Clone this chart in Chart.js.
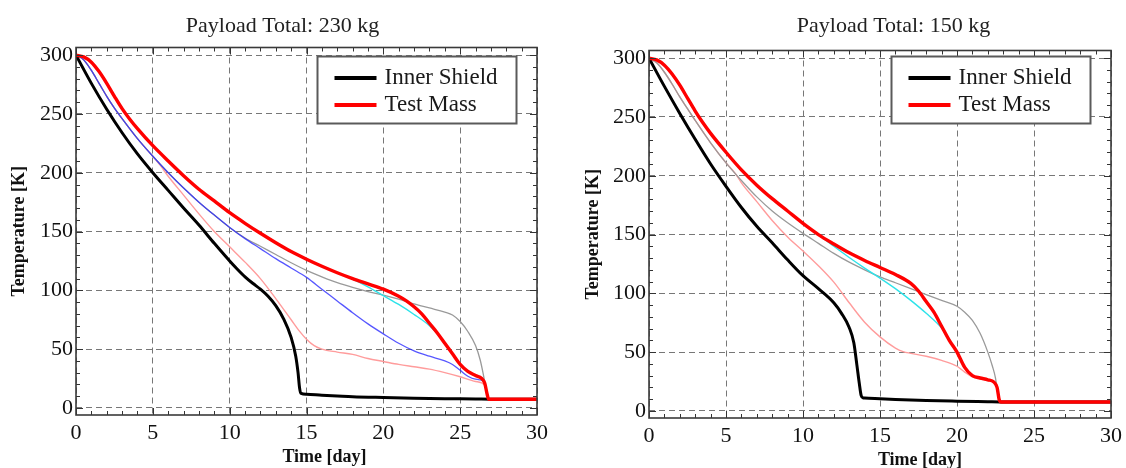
<!DOCTYPE html>
<html><head><meta charset="utf-8">
<script src="https://cdn.jsdelivr.net/npm/chart.js@4.4.1/dist/chart.umd.min.js"></script>
<style>
html,body{margin:0;padding:0;width:1126px;height:468px;overflow:hidden;background:#fff;}
canvas{position:absolute;top:0;}
#c1{left:0;}
#c2{left:575px;}
</style></head><body>
<canvas id="c1" width="565" height="468"></canvas>
<canvas id="c2" width="637" height="468"></canvas>
<script>
// ---------- tick labels ----------
const X_TICKS = [0, 5, 10, 15, 20, 25, 30];
const Y_TICKS = [0, 50, 100, 150, 200, 250, 300];
const TITLES = ['Payload Total: 230 kg', 'Payload Total: 150 kg'];
const LEGEND_LABELS = ['Inner Shield', 'Test Mass'];

// ---------- left: 230 kg ----------
const L_TIME_INNER = [0,1,2,3,4,5,6,7,8,9,10,10.5,11,11.5,12,12.5,13,13.5,14,14.3,14.45,14.55,14.65,15,16,17,18,20,22,24,26,27,30];
const L_TEMP_INNER = [300,276,254,234,216,200,185,170,155.5,140,125,118,111.5,106,101,95,87,76,60,44,30,17,12.3,11.6,10.8,10.2,9.6,8.9,8.3,7.9,7.6,7.4,7.4];
const L_TIME_MASS = [0,0.5,1,1.5,2,2.5,3,3.5,4,5,6,7,8,9,10,11,12,13,14,15,16,17,18,19,20,21,21.5,22,22.5,23,23.5,24,24.5,25,25.5,26,26.4,26.6,26.75,26.85,30];
const L_TEMP_MASS = [300,298.5,294,286,276,265,254.5,245.5,237.5,223,210,197.5,186,176,166,157,148.5,140.5,133,126.5,120.5,115,110,105.5,101,95,91,86,80,72,64,55,46,37,31,27.5,25,21,12,7.4,7.4];
const L_TIME_CYAN = [0,0.5,1,1.5,2,2.5,3,3.5,4,5,6,7,8,9,10,11,12,13,14,15,16,17,18,19,20,21,22,23,23.5];
const L_TEMP_CYAN = [300,298.5,294,286,276,265,254.5,245.5,237.5,223,210,197.5,186,176,166,157,148.5,140.5,133,126.5,120.5,115,109.5,103,95.5,88,79.5,70,63.5];
const L_TIME_BLUE = [0,0.5,1,1.5,2,2.5,3,4,5,6,7,8,9,10,11,12,13,14,15,16,17,18,19,20,21,22,23,24,24.5,25,25.5,26,26.6,26.8,27];
const L_TEMP_BLUE = [300,296,287,276,265,255,246,229,214,200,187,175,164,153.5,144,135.5,127,119,111,101,91,81,71.5,63,55,48.5,44,40,37,32,27,24.5,22,8,7.4];
const L_TIME_GRAY = [0,0.5,1,1.5,2,2.5,3,4,5,6,7,8,9,10,11,12,13,14,15,16,17,18,19,20,21,22,23,24,24.5,25,25.5,26,26.3,26.5,26.7,26.85,27];
const L_TEMP_GRAY = [300,296,287,276,265,255,246,229,214,200,187,175,164,153.5,144.5,137.5,130.5,123.5,117,111.5,106.5,102.5,99,96,92.5,88.5,85,81.5,79,73.5,65,53,41,29,15,7.4,7.4];
const L_TIME_PINK = [0,0.5,1,1.5,2,2.5,3,4,5,5.5,6,7,8,9,10,11,12,13,14,14.5,15,15.5,16,17,18,19,20,21,22,23,24,25,26,26.6,26.8,27];
const L_TEMP_PINK = [300,296,287,276,265,255,246,229,214,206,197,181,165,150,137,124,110,93,75,66,58.5,53,50,47.5,45.5,42,39.5,37,35,33,30,26.5,22.5,19.5,8,7.4];

// ---------- right: 150 kg ----------
const R_TIME_INNER = [0,1,2,3,4,5,6,7,8,9,10,11,12,12.5,13,13.3,13.5,13.65,13.78,13.9,14,15,16,18,20,22,22.8,30];
const R_TEMP_INNER = [300,276,253,231,210,191,173,157,143,128.5,115,104,92,83,71,58,39,24,13,11.2,11,10.4,9.8,8.9,8.3,7.8,7.6,7.6];
const R_TIME_MASS = [0,0.5,1,1.5,2,2.5,3,3.5,4,5,6,7,8,9,10,11,12,13,14,15,16,17,17.5,18,18.5,19,19.5,20,20.5,21,21.5,22,22.4,22.6,22.75,22.85,30];
const R_TEMP_MASS = [300,298.5,294,286.5,277,266,255,245,236,220,205,192,180.5,170,159.5,150,142,134.5,128,122,116,108.5,102,93,84,72,60,50,37,30,28,26.5,24.5,20,9,7.6,7.6];
const R_TIME_CYAN = [0,0.5,1,1.5,2,2.5,3,3.5,4,5,6,7,8,9,10,11,12,13,14,15,16,17,18,19,19.6];
const R_TEMP_CYAN = [300,298.5,294,286.5,277,266,255,245,236,220,205,192,180.5,170,159.5,150,140,130.5,121.5,113,104,94,83,70.5,59];
const R_TIME_GRAY = [0,0.5,1,1.5,2,2.5,3,4,5,6,7,8,9,10,11,12,13,14,15,16,17,18,19,20,20.5,21,21.5,22,22.3,22.5,22.65,22.8];
const R_TEMP_GRAY = [300,296,288,278,267,257,247,228,211,196,182,170,160,151,142.5,134,126.5,120,114,109,104,99,94,89,84,77,66,50,38,28,15,7.6];
const R_TIME_PINK = [0,0.5,1,1.5,2,2.5,3,4,5,5.6,6,7,8,9,10,11,12,13,14,15,16,16.5,17,18,19,20,20.5,21,21.5,22,22.4,22.6,22.75,22.85];
const R_TEMP_PINK = [300,296,288,278,267,257,247,228,211,202,194,178,162,148,136,123.5,109.5,92,75.5,63,53.5,50.5,49,46.5,43,38,33,29,27.5,26,24,20,10,7.6];

// ---------- helpers ----------
const FONT = '"Liberation Serif", "Times New Roman", serif';
Chart.defaults.font.family = FONT;
Chart.defaults.color = '#111';

function pts(ts, ks) { return ts.map((t, i) => ({ x: t, y: ks[i] })); }
function line(label, ts, ks, color, width) {
  return { label, data: pts(ts, ks), borderColor: color, backgroundColor: color, borderWidth: width,
           pointRadius: 0, fill: false, cubicInterpolationMode: 'monotone' };
}

const X_MINOR = Array.from({ length: 31 }, (_, i) => i);
const Y_MINOR = Array.from({ length: 31 }, (_, i) => i * 10);

const decoPlugin = {
  id: 'deco',
  afterDraw(chart, args, o) {
    const { ctx, chartArea: a, scales } = chart;
    const x = scales.x, y = scales.y;
    ctx.save();
    // inward minor / major ticks on all four sides
    ctx.strokeStyle = '#333';
    ctx.lineWidth = 1;
    ctx.beginPath();
    X_MINOR.forEach(v => {
      const px = Math.round(x.getPixelForValue(v)) + 0.5;
      const len = v % 5 === 0 ? 7 : 4;
      ctx.moveTo(px, a.bottom); ctx.lineTo(px, a.bottom - len);
      ctx.moveTo(px, a.top); ctx.lineTo(px, a.top + len);
    });
    Y_MINOR.forEach(v => {
      const py = Math.round(y.getPixelForValue(v)) + 0.5;
      const len = v % 50 === 0 ? 7 : 4;
      ctx.moveTo(a.left, py); ctx.lineTo(a.left + len, py);
      ctx.moveTo(a.right, py); ctx.lineTo(a.right - len, py);
    });
    ctx.stroke();
    // frame
    ctx.lineWidth = 1.6;
    ctx.strokeStyle = '#3a3a3a';
    ctx.strokeRect(a.left, a.top, a.right - a.left, a.bottom - a.top);

    // legend box inside plot
    const bw = 199, bh = 67;
    const bx = a.right - 20.5 - bw, by = 56.5;
    ctx.fillStyle = '#fff';
    ctx.fillRect(bx, by, bw, bh);
    ctx.lineWidth = 2;
    ctx.strokeStyle = '#5a5a5a';
    ctx.strokeRect(bx, by, bw, bh);
    ctx.font = '23px ' + FONT;
    ctx.textBaseline = 'middle';
    ctx.textAlign = 'left';
    LEGEND_LABELS.forEach((lab, i) => {
      const ds = chart.data.datasets.find(d => d.label === lab);
      const yy = by + 21.5 + i * 27;
      ctx.strokeStyle = ds.borderColor;
      ctx.lineWidth = 4;
      ctx.beginPath();
      ctx.moveTo(bx + 17, yy); ctx.lineTo(bx + 59, yy);
      ctx.stroke();
      ctx.fillStyle = '#1a1a1a';
      ctx.fillText(lab, bx + 67, yy);
    });

    // x-axis title
    ctx.font = 'bold 18px ' + FONT;
    ctx.fillStyle = '#111';
    ctx.textAlign = 'center';
    ctx.fillText(o.xTitle, (a.left + a.right) / 2 + o.xTitleDx, a.bottom + 42);
    ctx.restore();
  }
};

function build(id, title, sets, g) {
  return new Chart(document.getElementById(id), {
    type: 'line',
    data: { datasets: sets },
    options: {
      responsive: false,
      animation: false,
      devicePixelRatio: 1,
      layout: { padding: 0 },
      plugins: {
        legend: { display: false },
        tooltip: { enabled: false },
        title: { display: true, text: title, color: '#222',
                 font: { family: FONT, size: 22, weight: 'normal' },
                 padding: { top: 13.3, bottom: g.titleBottom } },
        deco: { xTitle: 'Time [day]', xTitleDx: g.xTitleDx }
      },
      scales: {
        x: {
          type: 'linear', min: 0, max: 30,
          afterBuildTicks: s => { s.ticks = X_TICKS.map(v => ({ value: v })); },
          afterFit: s => { s.height = g.xAxisH; },
          ticks: { font: { size: 22 }, color: '#111', padding: 5, maxRotation: 0, autoSkip: false },
          grid: { color: '#777', lineWidth: 1, drawTicks: false },
          border: { display: false, dash: [6, 4] }
        },
        y: {
          type: 'linear', position: 'left', min: -6, max: 306.5,
          afterBuildTicks: s => { s.ticks = Y_TICKS.map(v => ({ value: v })); },
          afterFit: s => { s.width = g.yAxisW; },
          ticks: { font: { size: 22 }, color: '#111', padding: 3 },
          grid: { color: '#777', lineWidth: 1, drawTicks: false },
          border: { display: false, dash: [6, 4] },
          title: { display: true, text: 'Temperature [K]', color: '#111',
                   font: { family: FONT, size: 18, weight: 'bold' },
                   padding: { top: g.yTitlePad, bottom: 0 } }
        },
        y2: {
          type: 'linear', position: 'right', min: -6, max: 306.5,
          afterFit: s => { s.width = g.y2W; },
          ticks: { display: false },
          grid: { display: false, drawTicks: false },
          border: { display: false }
        }
      }
    },
    plugins: [decoPlugin]
  });
}

const BLUE = 'rgba(40,40,255,0.78)';
const CYAN = '#2ee3ea';
const GRAY = '#9a9a9a';
const PINK = '#ff9c9c';

build('c1', TITLES[0], [
  line('Test Mass', L_TIME_MASS, L_TEMP_MASS, '#ff0000', 3.4),
  line('Inner Shield', L_TIME_INNER, L_TEMP_INNER, '#000000', 3),
  line('cyan', L_TIME_CYAN, L_TEMP_CYAN, CYAN, 1.4),
  line('blue', L_TIME_BLUE, L_TEMP_BLUE, BLUE, 1.3),
  line('gray', L_TIME_GRAY, L_TEMP_GRAY, GRAY, 1.3),
  line('pink', L_TIME_PINK, L_TEMP_PINK, PINK, 1.4)
], { titleBottom: 7.8, xAxisH: 53, yAxisW: 76, y2W: 28, yTitlePad: 8.8, xTitleDx: 18 });

build('c2', TITLES[1], [
  line('Test Mass', R_TIME_MASS, R_TEMP_MASS, '#ff0000', 3.4),
  line('Inner Shield', R_TIME_INNER, R_TEMP_INNER, '#000000', 3),
  line('cyan', R_TIME_CYAN, R_TEMP_CYAN, CYAN, 1.4),
  line('gray', R_TIME_GRAY, R_TEMP_GRAY, GRAY, 1.3),
  line('pink', R_TIME_PINK, R_TEMP_PINK, PINK, 1.4)
], { titleBottom: 10.8, xAxisH: 50, yAxisW: 74, y2W: 101, yTitlePad: 7.2, xTitleDx: 40 });
</script>
</body></html>
